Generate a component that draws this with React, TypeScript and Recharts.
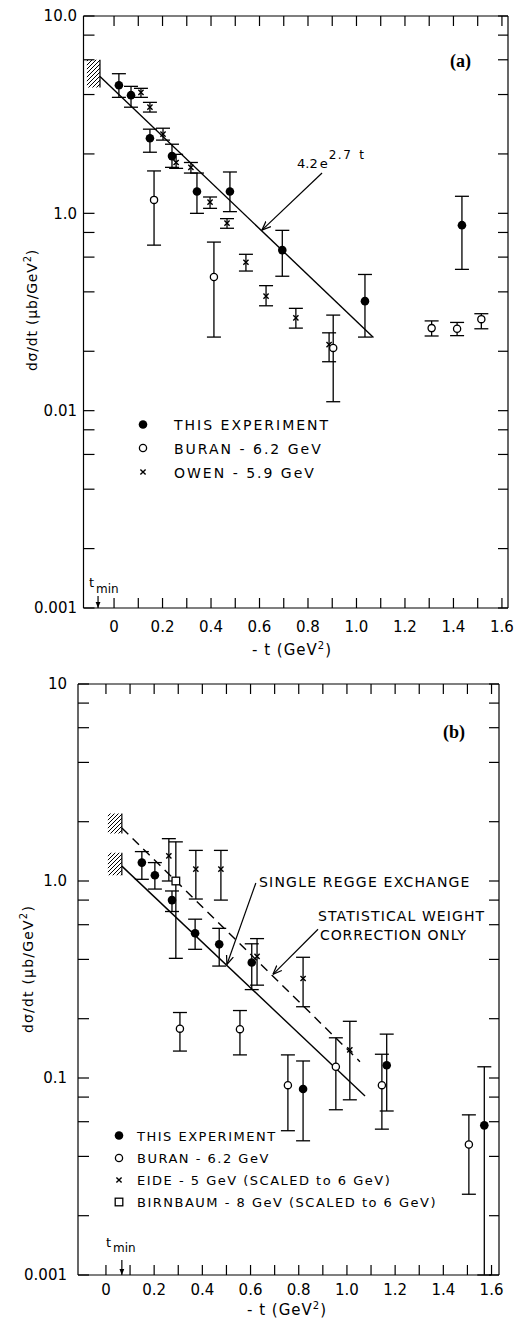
import React from 'react';
import { ScatterChart, Scatter, XAxis, YAxis, ErrorBar, ReferenceArea, ReferenceLine } from 'recharts';

const FONT = '"DejaVu Sans", "Liberation Sans", sans-serif';

// ticks shared by both panels
const xTicks = [0, 0.1, 0.2, 0.3, 0.4, 0.5, 0.6, 0.7, 0.8, 0.9, 1.0, 1.1, 1.2, 1.3, 1.4, 1.5, 1.6];
const xTickLabels = ['0', '', '0.2', '', '0.4', '', '0.6', '', '0.8', '', '1.0', '', '1.2', '', '1.4', '', '1.6'];
const yTicks = [0.01, 0.02, 0.04, 0.06, 0.08, 0.1, 0.2, 0.4, 0.6, 0.8, 1, 2, 4, 6, 8, 10];
const yTickLabelsA = ['0.001', '', '', '', '', '0.01', '', '', '', '', '1.0', '', '', '', '', '10.0'];
const yTickLabelsB = ['0.001', '', '', '', '', '0.1', '', '', '', '', '1.0', '', '', '', '', '10'];

// ---- panel (a) ----
const aThisT = [0.02, 0.07, 0.148, 0.239, 0.342, 0.478, 0.694, 1.035, 1.435];
const aThisV = [4.46, 3.97, 2.4, 1.95, 1.29, 1.29, 0.651, 0.359, 0.871];
const aThisLo = [3.87, 3.45, 2.04, 1.71, 1.0, 1.02, 0.48, 0.236, 0.52];
const aThisHi = [5.1, 4.4, 2.67, 2.24, 1.6, 1.62, 0.82, 0.49, 1.22];

const aBuranT = [0.165, 0.412, 0.904, 1.31, 1.415, 1.515];
const aBuranV = [1.17, 0.476, 0.208, 0.262, 0.26, 0.291];
const aBuranLo = [0.69, 0.236, 0.111, 0.239, 0.24, 0.26];
const aBuranHi = [1.64, 0.715, 0.305, 0.285, 0.28, 0.31];

const aOwenT = [0.111, 0.148, 0.202, 0.256, 0.317, 0.396, 0.466, 0.544, 0.627, 0.75, 0.887];
const aOwenV = [4.1, 3.45, 2.52, 1.81, 1.71, 1.14, 0.893, 0.565, 0.381, 0.295, 0.216];
const aOwenLo = [3.87, 3.26, 2.35, 1.69, 1.6, 1.06, 0.84, 0.51, 0.34, 0.262, 0.177];
const aOwenHi = [4.3, 3.65, 2.7, 1.99, 1.81, 1.21, 0.94, 0.62, 0.43, 0.33, 0.248];

// fit 4.2 e^{2.7t}, end points
const aFitT = [-0.058, 1.07];
const aFitV = [4.94, 0.235];

// ---- panel (b) ----
const bThisT = [0.149, 0.203, 0.274, 0.37, 0.47, 0.605, 0.818, 1.165, 1.57];
const bThisV = [1.24, 1.07, 0.8, 0.543, 0.477, 0.386, 0.088, 0.116, 0.0575];
const bThisLo = [1.02, 0.91, 0.7, 0.45, 0.37, 0.281, 0.048, 0.068, 0.01];
const bThisHi = [1.41, 1.24, 0.89, 0.64, 0.575, 0.48, 0.122, 0.167, 0.114];

const bBuranT = [0.307, 0.556, 0.755, 0.954, 1.145, 1.506];
const bBuranV = [0.178, 0.177, 0.092, 0.114, 0.092, 0.046];
const bBuranLo = [0.137, 0.131, 0.054, 0.069, 0.055, 0.0257];
const bBuranHi = [0.215, 0.22, 0.131, 0.16, 0.132, 0.065];

const bEideT = [0.261, 0.373, 0.477, 0.627, 0.818, 1.012];
const bEideV = [1.34, 1.15, 1.15, 0.414, 0.32, 0.139];
const bEideLo = [1.0, 0.81, 0.8, 0.296, 0.23, 0.0775];
const bEideHi = [1.64, 1.43, 1.43, 0.51, 0.41, 0.194];

const bBirnT = [0.29];
const bBirnV = [1.0];
const bBirnLo = [0.405];
const bBirnHi = [1.58];

const bReggeT = [0.066, 1.075];
const bReggeV = [1.19, 0.081];
const bStatT = [0.066, 1.054];
const bStatV = [1.86, 0.121];

const rows = (t: number[], v: number[], lo: number[], hi: number[]) =>
  t.map((x, i) => ({ t: x, v: v[i], err: [v[i] - lo[i], hi[i] - v[i]] }));
const pts = (t: number[], v: number[]) => t.map((x, i) => ({ t: x, v: v[i] }));

// markers
const Dot = (p: any) => <circle cx={p.cx} cy={p.cy} r={4.3} fill="#000" />;
const Ring = (p: any) => <circle cx={p.cx} cy={p.cy} r={3.6} fill="#fff" stroke="#000" strokeWidth={1.3} />;
const Cross = (p: any) => {
  const s = 2.6;
  return (
    <path
      d={`M${p.cx - s},${p.cy - s}L${p.cx + s},${p.cy + s}M${p.cx - s},${p.cy + s}L${p.cx + s},${p.cy - s}`}
      stroke="#000"
      strokeWidth={1.4}
      fill="none"
    />
  );
};
const Box = (p: any) => (
  <rect x={p.cx - 3.8} y={p.cy - 3.8} width={7.6} height={7.6} fill="#fff" stroke="#000" strokeWidth={1.3} />
);
const NoMark = () => <g />;

const arrow = (id: string) => (p: any) => (
  <line x1={p.x1} y1={p.y1} x2={p.x2} y2={p.y2} stroke="#000" strokeWidth={1.2} markerEnd={`url(#${id})`} />
);

// chart geometry (same numbers feed the chart margins and the mirrored frame)
const Y_AXIS_W = 60;
const X_AXIS_H = 30;
const W = 518;
const hA = 660;
const mA = { top: 16, right: 10, bottom: 22, left: 23.5 };
const hB = 681;
const mB = { top: 44, right: 19, bottom: 16, left: 18 };

// top and right sides of the box, ticks pointing inward
function MirrorFrame({ m, h, x0, x1 }: { m: typeof mA; h: number; x0: number; x1: number }) {
  const left = m.left + Y_AXIS_W;
  const right = W - m.right;
  const top = m.top;
  const bottom = h - m.bottom - X_AXIS_H;
  const px = (t: number) => left + ((t - x0) / (x1 - x0)) * (right - left);
  const py = (v: number) => bottom - ((Math.log10(v) + 2) / 3) * (bottom - top);
  return (
    <g stroke="#000" strokeWidth={1.2}>
      <line x1={left} x2={right} y1={top} y2={top} />
      <line x1={right} x2={right} y1={top} y2={bottom} />
      {xTicks.map((t) => (
        <line key={`t${t}`} x1={px(t)} x2={px(t)} y1={top} y2={top + 10} />
      ))}
      {yTicks.map((v) => (
        <line key={`r${v}`} x1={right - 10} x2={right} y1={py(v)} y2={py(v)} />
      ))}
    </g>
  );
}

const line = { stroke: '#000', strokeWidth: 1.2 };
const tickStyle = { fill: '#000', fontSize: 15, fontFamily: FONT };

function axes(xDomain: [number, number], yLabels: string[], yMargin: number, xMargin: number) {
  return [
    <XAxis
      key="xb"
      type="number"
      dataKey="t"
      domain={xDomain}
      allowDataOverflow
      ticks={xTicks}
      tickFormatter={(val: number) => xTickLabels[xTicks.indexOf(val)] ?? ''}
      axisLine={line}
      tickLine={line}
      tickSize={-10}
      tickMargin={xMargin}
      tick={tickStyle}
      height={X_AXIS_H}
      interval={0}
    />,
    <YAxis
      key="yl"
      type="number"
      dataKey="v"
      scale="log"
      domain={[0.01, 10]}
      allowDataOverflow
      ticks={yTicks}
      tickFormatter={(val: number) => yLabels[yTicks.indexOf(val)] ?? ''}
      axisLine={line}
      tickLine={line}
      tickSize={-11}
      tickMargin={yMargin}
      tick={tickStyle}
      width={Y_AXIS_W}
      interval={0}
    />,
  ];
}

const errBar = <ErrorBar dataKey="err" direction="y" width={7} stroke="#000" strokeWidth={1.3} isAnimationActive={false} />;

const textStyle: React.CSSProperties = { fontFamily: FONT, fill: '#000' };

const A0 = -0.126;
const A1 = 1.625;
const B0 = -0.116;
const B1 = 1.631;

function PanelA() {
  return (
    <ScatterChart width={W} height={hA} margin={mA}>
      <defs>
        <pattern id="hatchA" patternUnits="userSpaceOnUse" width="4" height="4">
          <path d="M-1,1 l2,-2 M0,4 l4,-4 M3,5 l2,-2" stroke="#000" strokeWidth="1" />
        </pattern>
        <marker id="arrA" viewBox="0 0 10 10" refX="10" refY="5" markerWidth="9" markerHeight="9" orient="auto" markerUnits="userSpaceOnUse">
          <path d="M0,1 L10,5 L0,9" fill="none" stroke="#000" strokeWidth="1.4" />
        </marker>
        <marker id="arrAs" viewBox="0 0 10 10" refX="10" refY="5" markerWidth="6" markerHeight="6" orient="auto" markerUnits="userSpaceOnUse">
          <path d="M0,1 L10,5 L0,9 Z" fill="#000" />
        </marker>
      </defs>
      {axes([A0, A1], yTickLabelsA, 17.5, 23)}
      <MirrorFrame m={mA} h={hA} x0={A0} x1={A1} />
      <ReferenceArea x1={-0.112} x2={-0.058} y1={4.34} y2={6.0} fill="url(#hatchA)" fillOpacity={1} stroke="none" />
      <ReferenceLine segment={[{ x: -0.058, y: 4.34 }, { x: -0.058, y: 6.0 }]} stroke="#000" strokeWidth={1.2} />
      <ReferenceLine segment={[{ x: 0.858, y: 1.6 }, { x: 0.61, y: 0.822 }]} shape={arrow('arrA')} />
      <ReferenceLine segment={[{ x: -0.066, y: 0.0115 }, { x: -0.066, y: 0.01 }]} shape={arrow('arrAs')} />
      <Scatter data={pts(aFitT, aFitV)} fill="#000" line={{ stroke: '#000', strokeWidth: 1.4 }} shape={NoMark} isAnimationActive={false} legendType="none" />
      <Scatter data={rows(aOwenT, aOwenV, aOwenLo, aOwenHi)} shape={Cross} isAnimationActive={false}>{errBar}</Scatter>
      <Scatter data={rows(aBuranT, aBuranV, aBuranLo, aBuranHi)} shape={Ring} isAnimationActive={false}>{errBar}</Scatter>
      <Scatter data={rows(aThisT, aThisV, aThisLo, aThisHi)} shape={Dot} isAnimationActive={false}>{errBar}</Scatter>

      <text x={450} y={67} style={{ ...textStyle, fontFamily: '"Liberation Serif", serif' }} fontSize={18} fontWeight="bold">(a)</text>
      <text x={297} y={168} style={textStyle} fontSize={13}>
        4.2<tspan dx={2}>e</tspan>
        <tspan dy={-9} dx={1} fontSize={12} letterSpacing={1.5}>2.7</tspan>
        <tspan dx={7} fontSize={12}>t</tspan>
      </text>

      <Dot cx={143} cy={424.5} />
      <Ring cx={143} cy={448} />
      <Cross cx={143} cy={472} />
      <text x={174} y={430} style={textStyle} fontSize={14} letterSpacing={2}>THIS EXPERIMENT</text>
      <text x={174} y={453.5} style={textStyle} fontSize={14} letterSpacing={2}>BURAN - 6.2 GeV</text>
      <text x={174} y={477.5} style={textStyle} fontSize={14} letterSpacing={2}>OWEN - 5.9 GeV</text>

      <text x={89} y={587} style={textStyle} fontSize={13}>t</text>
      <text x={96} y={593} style={textStyle} fontSize={12}>min</text>

      <text x={292} y={655} style={textStyle} fontSize={15} letterSpacing={1} textAnchor="middle">
        - t (GeV<tspan dy={-6} fontSize={10}>2</tspan><tspan dy={6}>)</tspan>
      </text>
      <text transform="translate(37,310) rotate(-90)" style={textStyle} fontSize={14} letterSpacing={0.8} textAnchor="middle">
        dσ/dt (μb/GeV<tspan dy={-6} fontSize={10}>2</tspan><tspan dy={6}>)</tspan>
      </text>
    </ScatterChart>
  );
}

function PanelB() {
  return (
    <ScatterChart width={W} height={hB} margin={mB}>
      <defs>
        <pattern id="hatchB" patternUnits="userSpaceOnUse" width="4" height="4">
          <path d="M-1,1 l2,-2 M0,4 l4,-4 M3,5 l2,-2" stroke="#000" strokeWidth="1" />
        </pattern>
        <marker id="arrB" viewBox="0 0 10 10" refX="10" refY="5" markerWidth="9" markerHeight="9" orient="auto" markerUnits="userSpaceOnUse">
          <path d="M0,1 L10,5 L0,9" fill="none" stroke="#000" strokeWidth="1.4" />
        </marker>
        <marker id="arrBs" viewBox="0 0 10 10" refX="10" refY="5" markerWidth="6" markerHeight="6" orient="auto" markerUnits="userSpaceOnUse">
          <path d="M0,1 L10,5 L0,9 Z" fill="#000" />
        </marker>
      </defs>
      {axes([B0, B1], yTickLabelsB, 22, 19)}
      <MirrorFrame m={mB} h={hB} x0={B0} x1={B1} />
      <ReferenceArea x1={0.008} x2={0.066} y1={1.74} y2={2.2} fill="url(#hatchB)" fillOpacity={1} stroke="none" />
      <ReferenceArea x1={0.008} x2={0.066} y1={1.07} y2={1.39} fill="url(#hatchB)" fillOpacity={1} stroke="none" />
      <ReferenceLine segment={[{ x: 0.066, y: 1.74 }, { x: 0.066, y: 2.2 }]} stroke="#000" strokeWidth={1.2} />
      <ReferenceLine segment={[{ x: 0.066, y: 1.07 }, { x: 0.066, y: 1.39 }]} stroke="#000" strokeWidth={1.2} />
      <ReferenceLine segment={[{ x: 0.622, y: 0.977 }, { x: 0.502, y: 0.377 }]} shape={arrow('arrB')} />
      <ReferenceLine segment={[{ x: 0.88, y: 0.569 }, { x: 0.693, y: 0.336 }]} shape={arrow('arrB')} />
      <ReferenceLine segment={[{ x: 0.066, y: 0.0119 }, { x: 0.066, y: 0.01 }]} shape={arrow('arrBs')} />
      <Scatter data={pts(bReggeT, bReggeV)} fill="#000" line={{ stroke: '#000', strokeWidth: 1.4 }} shape={NoMark} isAnimationActive={false} legendType="none" />
      <Scatter data={pts(bStatT, bStatV)} fill="#000" line={{ stroke: '#000', strokeWidth: 1.4, strokeDasharray: '9 6' }} shape={NoMark} isAnimationActive={false} legendType="none" />
      <Scatter data={rows(bEideT, bEideV, bEideLo, bEideHi)} shape={Cross} isAnimationActive={false}>{errBar}</Scatter>
      <Scatter data={rows(bBirnT, bBirnV, bBirnLo, bBirnHi)} shape={Box} isAnimationActive={false}>{errBar}</Scatter>
      <Scatter data={rows(bBuranT, bBuranV, bBuranLo, bBuranHi)} shape={Ring} isAnimationActive={false}>{errBar}</Scatter>
      <Scatter data={rows(bThisT, bThisV, bThisLo, bThisHi)} shape={Dot} isAnimationActive={false}>{errBar}</Scatter>

      <text x={443} y={98} style={{ ...textStyle, fontFamily: '"Liberation Serif", serif' }} fontSize={18} fontWeight="bold">(b)</text>
      <text x={259} y={247} style={textStyle} fontSize={14} letterSpacing={1.2}>SINGLE REGGE EXCHANGE</text>
      <text x={318} y={281} style={textStyle} fontSize={14} letterSpacing={1.1}>STATISTICAL WEIGHT</text>
      <text x={320} y={300} style={textStyle} fontSize={14} letterSpacing={0.9}>CORRECTION ONLY</text>

      <Dot cx={119} cy={495.5} />
      <Ring cx={119} cy={518} />
      <Cross cx={119} cy={540} />
      <Box cx={119} cy={562} />
      <text x={137} y={501} style={textStyle} fontSize={13} letterSpacing={1.5}>THIS EXPERIMENT</text>
      <text x={137} y={523} style={textStyle} fontSize={13} letterSpacing={1.5}>BURAN - 6.2 GeV</text>
      <text x={137} y={545} style={textStyle} fontSize={13} letterSpacing={1.5}>EIDE - 5 GeV (SCALED to 6 GeV)</text>
      <text x={137} y={567} style={textStyle} fontSize={13} letterSpacing={1.5}>BIRNBAUM - 8 GeV (SCALED to 6 GeV)</text>

      <text x={106} y={607} style={textStyle} fontSize={13}>t</text>
      <text x={113} y={612} style={textStyle} fontSize={12}>min</text>

      <text x={287} y={675} style={textStyle} fontSize={15} letterSpacing={1} textAnchor="middle">
        - t (GeV<tspan dy={-6} fontSize={10}>2</tspan><tspan dy={6}>)</tspan>
      </text>
      <text transform="translate(33,329) rotate(-90)" style={textStyle} fontSize={14} letterSpacing={1.2} textAnchor="middle">
        dσ/dt (μb/GeV<tspan dy={-6} fontSize={10}>2</tspan><tspan dy={6}>)</tspan>
      </text>
    </ScatterChart>
  );
}

export default function App() {
  return (
    <div style={{ position: 'absolute', left: 0, top: 0, width: 518, height: 1321, background: '#fff' }}>
      <div style={{ position: 'absolute', left: 0, top: 0 }}>
        <PanelA />
      </div>
      <div style={{ position: 'absolute', left: 0, top: 640 }}>
        <PanelB />
      </div>
    </div>
  );
}
